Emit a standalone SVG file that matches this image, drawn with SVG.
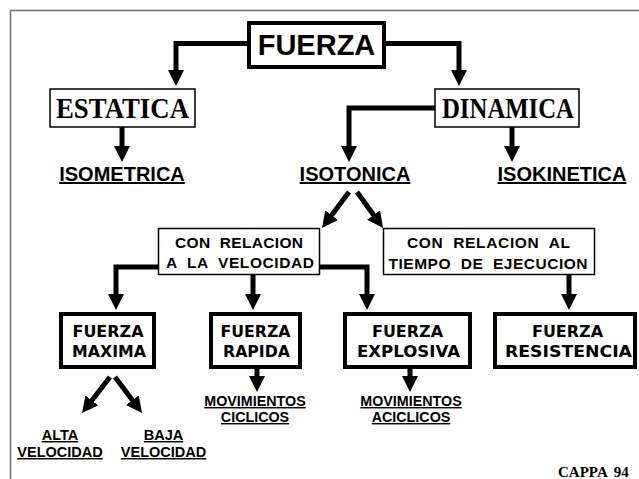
<svg xmlns="http://www.w3.org/2000/svg" width="639" height="479" viewBox="0 0 639 479">
<style>
.frame{fill:none;stroke:#6e6e6e;stroke-width:1.5}
.thick{fill:#fff;stroke:#000;stroke-width:4}
.thin{fill:#fff;stroke:#000;stroke-width:1.5}
.conn{fill:none;stroke:#000;stroke-width:5}
.arial{font-family:"Liberation Sans",Arial,sans-serif;font-weight:bold;fill:#000;text-anchor:middle}
.times{font-family:"Liberation Serif","Times New Roman",serif;font-weight:bold;fill:#000;text-anchor:middle}
.comic{font-family:"DejaVu Sans",sans-serif;font-weight:bold;fill:#000;text-anchor:middle;font-size:16px}
.ul{text-decoration:underline}
</style>
<defs>
<marker id="ah" viewBox="0 0 16 16" refX="1" refY="8" markerWidth="16" markerHeight="16" markerUnits="userSpaceOnUse" orient="auto">
<path d="M0,0 L16,8 L0,16 z" fill="#000"/>
</marker>
</defs>
<path class="frame" d="M10.5,479 V10.5 H639"/>
<g id="connectors" marker-end="url(#ah)">
<path class="conn" d="M249,43.5 H176 V71"/>
<path class="conn" d="M384,43.5 H459 V71"/>
<path class="conn" d="M122,127 V147"/>
<path class="conn" d="M435,108 H349 V147"/>
<path class="conn" d="M512,127 V147"/>
<path class="conn" d="M349,192 L331,216"/>
<path class="conn" d="M357,192 L374.2,215.8"/>
<path class="conn" d="M158.5,267 H116 V295"/>
<path class="conn" d="M253,275 V295"/>
<path class="conn" d="M319.5,267 H367 V295"/>
<path class="conn" d="M569,275 V295"/>
<path class="conn" d="M110,377 L91.2,401.2"/>
<path class="conn" d="M115,377 L133,401"/>
<path class="conn" d="M257,369 V377"/>
<path class="conn" d="M410,369 V377"/>
</g>
<g id="fuerza">
<rect class="thick" x="249" y="23" width="135" height="44"/>
<text class="arial" x="316.5" y="55" font-size="29">FUERZA</text>
</g>
<g id="estatica">
<rect class="thin" x="50" y="89" width="145" height="38" stroke-width="2"/>
<text class="times" x="122.5" y="118" font-size="30" textLength="133" lengthAdjust="spacingAndGlyphs">ESTATICA</text>
</g>
<g id="dinamica">
<rect class="thin" x="435" y="89" width="144" height="38" stroke-width="2"/>
<text class="times" x="508" y="118" font-size="30" textLength="132" lengthAdjust="spacingAndGlyphs">DINAMICA</text>
</g>
<g id="isometrica"><text class="arial ul" x="122" y="181" font-size="20">ISOMETRICA</text></g>
<g id="isotonica"><text class="arial ul" x="355" y="181" font-size="20">ISOTONICA</text></g>
<g id="isokinetica"><text class="arial ul" x="562" y="181" font-size="20">ISOKINETICA</text></g>
<g id="velocidad">
<rect class="thin" x="158.5" y="228.5" width="161" height="46"/>
<text class="arial" x="239" y="248" font-size="15.5" textLength="128" lengthAdjust="spacing" xml:space="preserve">CON  RELACION</text>
<text class="arial" x="240" y="268" font-size="15.5" textLength="148" lengthAdjust="spacing" xml:space="preserve">A  LA  VELOCIDAD</text>
</g>
<g id="tiempo">
<rect class="thin" x="383.5" y="228.5" width="211" height="46"/>
<text class="arial" x="488.5" y="247.5" font-size="15.5" textLength="163" lengthAdjust="spacing" xml:space="preserve">CON  RELACION  AL</text>
<text class="arial" x="488" y="268.5" font-size="15.5" textLength="199" lengthAdjust="spacing" xml:space="preserve">TIEMPO  DE  EJECUCION</text>
</g>
<g id="maxima">
<rect class="thick" x="61" y="314" width="93" height="53"/>
<text class="comic" x="108" y="337" textLength="71" lengthAdjust="spacingAndGlyphs">FUERZA</text>
<text class="comic" x="109" y="357" textLength="74" lengthAdjust="spacingAndGlyphs">MAXIMA</text>
</g>
<g id="rapida">
<rect class="thick" x="211" y="314" width="89" height="53"/>
<text class="comic" x="255.5" y="337" textLength="70" lengthAdjust="spacingAndGlyphs">FUERZA</text>
<text class="comic" x="256.5" y="357" textLength="67" lengthAdjust="spacingAndGlyphs">RAPIDA</text>
</g>
<g id="explosiva">
<rect class="thick" x="345" y="314" width="125" height="53"/>
<text class="comic" x="407.5" y="337" textLength="71" lengthAdjust="spacingAndGlyphs">FUERZA</text>
<text class="comic" x="408.5" y="357" textLength="103" lengthAdjust="spacingAndGlyphs">EXPLOSIVA</text>
</g>
<g id="resistencia">
<rect class="thick" x="495" y="314" width="140" height="53"/>
<text class="comic" x="567.5" y="337" textLength="71" lengthAdjust="spacingAndGlyphs">FUERZA</text>
<text class="comic" x="568.5" y="357" textLength="127" lengthAdjust="spacingAndGlyphs">RESISTENCIA</text>
</g>
<g id="alta">
<text class="arial ul" x="60" y="440" font-size="14.5">ALTA</text>
<text class="arial ul" x="60" y="457" font-size="14.5">VELOCIDAD</text>
</g>
<g id="baja">
<text class="arial ul" x="163.5" y="440" font-size="14.5">BAJA</text>
<text class="arial ul" x="163.5" y="457" font-size="14.5">VELOCIDAD</text>
</g>
<g id="ciclicos">
<text class="arial ul" x="255" y="406" font-size="14.3">MOVIMIENTOS</text>
<text class="arial ul" x="255" y="422" font-size="14.3">CICLICOS</text>
</g>
<g id="aciclicos">
<text class="arial ul" x="411" y="406" font-size="14.3">MOVIMIENTOS</text>
<text class="arial ul" x="411" y="422" font-size="14.3">ACICLICOS</text>
</g>
<g id="credit">
<text class="times" x="558" y="477" font-size="15" style="text-anchor:start" word-spacing="3">CAPPA 94</text>
</g>
</svg>
